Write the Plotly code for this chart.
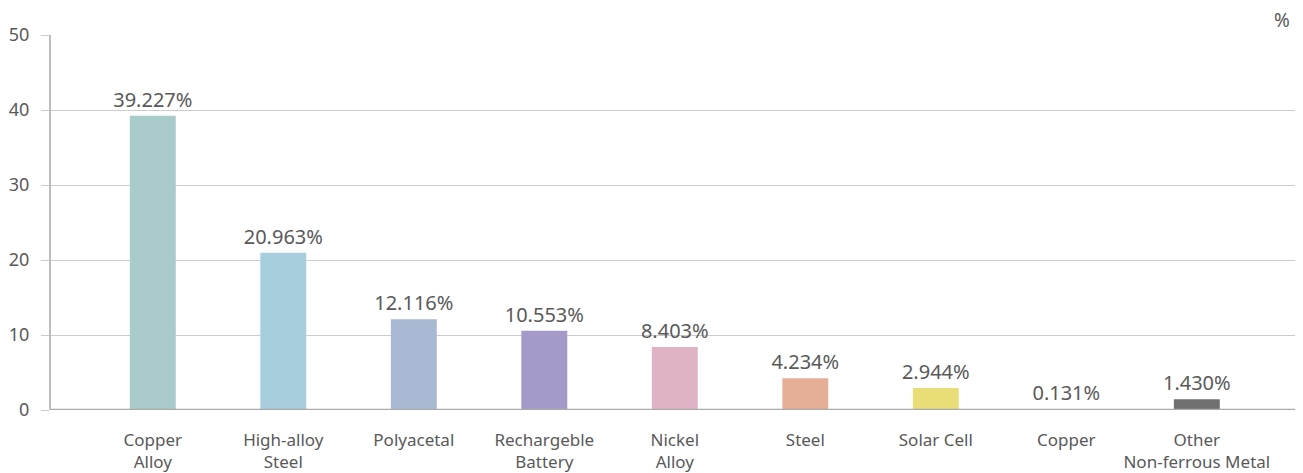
import plotly.graph_objects as go

categories = ["Copper<br>Alloy", "High-alloy<br>Steel", "Polyacetal", "Rechargeble<br>Battery",
              "Nickel<br>Alloy", "Steel", "Solar Cell", "Copper", "Other<br>Non-ferrous Metal"]
values = [39.227, 20.963, 12.116, 10.553, 8.403, 4.234, 2.944, 0.131, 1.430]
labels = ["39.227%", "20.963%", "12.116%", "10.553%", "8.403%", "4.234%", "2.944%", "0.131%", "1.430%"]
colors = ["#A9CBC9", "#A8CDDD", "#A9B8D3", "#A599CA", "#E0B2C5", "#E5AE96", "#E9DD78", "#D2DC9E", "#707070"]
y_ticks = [0, 10, 20, 30, 40, 50]

FONT = "Noto Sans, Lato, sans-serif"
x_idx = list(range(len(categories)))

fig = go.Figure()
fig.add_trace(go.Bar(
    x=x_idx, y=values, width=0.352,
    marker=dict(color=colors, line=dict(width=0)),
    text=labels, textposition="outside", cliponaxis=False, constraintext="none",
    textfont=dict(family=FONT, size=20, color="#595959"),
    hoverinfo="skip",
))

fig.update_layout(
    width=1295, height=465,
    margin=dict(l=43, r=7, t=27, b=63),
    paper_bgcolor="white", plot_bgcolor="white",
    showlegend=False,
    font=dict(family=FONT, color="#595959"),
    xaxis=dict(
        range=[-0.78, 8.76], tickmode="array", tickvals=x_idx, ticktext=categories,
        showgrid=False, zeroline=False, showline=False, automargin=False,
        tickfont=dict(family=FONT, size=17, color="#595959"),
        ticks="", ticklabelstandoff=18,
    ),
    yaxis=dict(
        range=[0, 50], tickmode="array", tickvals=y_ticks, automargin=False,
        showgrid=True, gridcolor="#CCCCCC", gridwidth=1.3,
        zeroline=False, showline=True, linecolor="#BDBDBD", linewidth=2,
        ticks="outside", ticklen=8, tickcolor="#CCCCCC", tickwidth=1.3,
        tickfont=dict(family=FONT, size=18, color="#595959"),
        ticklabelstandoff=8,
    ),
    shapes=[dict(type="line", xref="paper", yref="y", x0=0, x1=1, y0=0, y1=0,
                 line=dict(color="#AAAAAA", width=2.5))],
    annotations=[dict(text="%", xref="paper", yref="paper", x=1.0, y=1.0,
                      xanchor="right", yanchor="bottom", xshift=-4, yshift=0,
                      showarrow=False, font=dict(family=FONT, size=19, color="#595959"))],
)

fig.write_html("out.html")
